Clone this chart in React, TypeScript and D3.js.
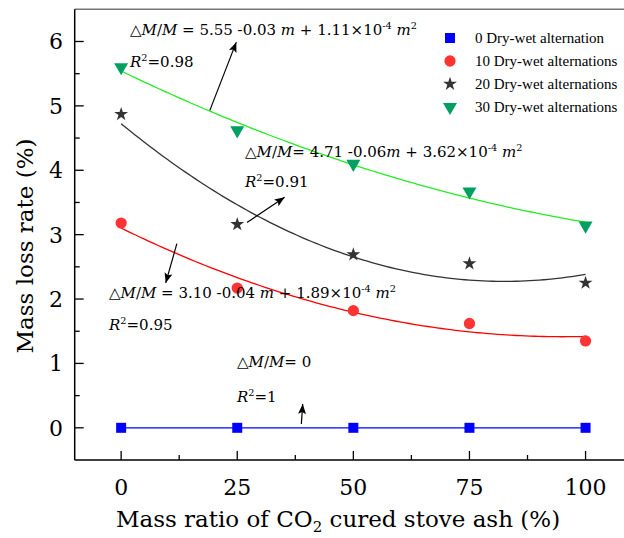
import { useEffect, useRef } from 'react';
import * as d3 from 'd3';

// x values: mass ratio of CO2 cured stove ash (%)
const ratios = [0, 25, 50, 75, 100];
// mass loss rate (%) per number of dry-wet cycles
const loss0 = [0, 0, 0, 0, 0];
const loss10 = [3.18, 2.17, 1.82, 1.62, 1.35];
const loss20 = [4.87, 3.16, 2.69, 2.55, 2.25];
const loss30 = [5.6, 4.62, 4.1, 3.67, 3.14];

const legendLabels = [
    '0 Dry-wet alternation',
    '10 Dry-wet alternations',
    '20 Dry-wet alternations',
    '30 Dry-wet alternations',
];
const xTicks = [0, 25, 50, 75, 100];
const yTicks = [0, 1, 2, 3, 4, 5, 6];

// least squares quadratic fit y = a + b x + c x^2
function quadFit(xs: number[], ys: number[]) {
    let s = [0, 0, 0, 0, 0];
    let t = [0, 0, 0];
    xs.forEach((x, i) => {
        for (let k = 0; k < 5; k++) s[k] += Math.pow(x, k);
        for (let k = 0; k < 3; k++) t[k] += ys[i] * Math.pow(x, k);
    });
    const m = [
        [s[0], s[1], s[2], t[0]],
        [s[1], s[2], s[3], t[1]],
        [s[2], s[3], s[4], t[2]],
    ];
    for (let i = 0; i < 3; i++) {
        for (let j = i + 1; j < 3; j++) {
            const f = m[j][i] / m[i][i];
            for (let k = i; k < 4; k++) m[j][k] -= f * m[i][k];
        }
    }
    const c = [0, 0, 0];
    for (let i = 2; i >= 0; i--) {
        let v = m[i][3];
        for (let k = i + 1; k < 3; k++) v -= m[i][k] * c[k];
        c[i] = v / m[i][i];
    }
    return (x: number) => c[0] + c[1] * x + c[2] * x * x;
}

const App = () => {
    const ref = useRef<SVGSVGElement>(null);

    useEffect(() => {
        const svg = d3.select(ref.current);
        svg.selectAll('*').remove();

        const width = 624;
        const left = 74.7, right = 632, top = 9.3, bottom = 460;

        const x = d3.scaleLinear().domain([-10, 110]).range([left, right]);
        const y = d3.scaleLinear().domain([-0.5, 6.5]).range([bottom, top]);

        const serif = '"DejaVu Serif", serif';

        // frame
        svg.append('line').attr('x1', left).attr('x2', width).attr('y1', top).attr('y2', top)
            .attr('stroke', '#777').attr('stroke-width', 1.5);
        svg.append('line').attr('x1', left).attr('x2', left).attr('y1', top).attr('y2', bottom)
            .attr('stroke', '#000').attr('stroke-width', 1.5);
        svg.append('line').attr('x1', left).attr('x2', width).attr('y1', bottom).attr('y2', bottom)
            .attr('stroke', '#000').attr('stroke-width', 1.5);

        // ticks (inward)
        const xMinor = d3.range(12.5, 100, 25);
        svg.append('g').selectAll('line').data(xTicks).join('line')
            .attr('x1', d => x(d)).attr('x2', d => x(d))
            .attr('y1', bottom).attr('y2', bottom - 9)
            .attr('stroke', '#000').attr('stroke-width', 1.3);
        svg.append('g').selectAll('line').data(xMinor).join('line')
            .attr('x1', d => x(d)).attr('x2', d => x(d))
            .attr('y1', bottom).attr('y2', bottom - 5)
            .attr('stroke', '#000').attr('stroke-width', 1.3);
        const yMinor = d3.range(0.5, 6.5, 1);
        svg.append('g').selectAll('line').data(yTicks).join('line')
            .attr('x1', left).attr('x2', left + 9)
            .attr('y1', d => y(d)).attr('y2', d => y(d))
            .attr('stroke', '#000').attr('stroke-width', 1.3);
        svg.append('g').selectAll('line').data(yMinor).join('line')
            .attr('x1', left).attr('x2', left + 5)
            .attr('y1', d => y(d)).attr('y2', d => y(d))
            .attr('stroke', '#000').attr('stroke-width', 1.3);

        // tick labels
        svg.append('g').selectAll('text').data(xTicks).join('text')
            .attr('x', d => x(d)).attr('y', 495)
            .attr('text-anchor', 'middle')
            .style('font-family', serif).style('font-size', '22px')
            .text(d => d);
        svg.append('g').selectAll('text').data(yTicks).join('text')
            .attr('x', 63).attr('y', d => y(d) + 8)
            .attr('text-anchor', 'end')
            .style('font-family', serif).style('font-size', '22px')
            .text(d => d);

        // axis titles
        const xt = svg.append('text').attr('x', 338).attr('y', 527)
            .attr('text-anchor', 'middle')
            .style('font-family', serif).style('font-size', '23px');
        xt.append('tspan').text('Mass ratio of CO');
        xt.append('tspan').text('2').attr('dy', 5).style('font-size', '15px');
        xt.append('tspan').text(' cured stove ash (%)').attr('dy', -5);

        svg.append('text')
            .attr('transform', 'translate(33,246) rotate(-90)')
            .attr('text-anchor', 'middle')
            .style('font-family', serif).style('font-size', '23px')
            .text('Mass loss rate (%)');

        // fitted curves
        const grid = d3.range(0, 100.5, 1);
        const line = d3.line<number[]>().x(d => x(d[0])).y(d => y(d[1]));
        const curves = [
            { ys: loss10, color: '#ff0000' },
            { ys: loss20, color: '#333333' },
            { ys: loss30, color: '#22ee22' },
        ];
        curves.forEach(c => {
            const f = quadFit(ratios, c.ys);
            svg.append('path')
                .attr('d', line(grid.map(g => [g, f(g)])))
                .attr('fill', 'none').attr('stroke', c.color).attr('stroke-width', 1.3);
        });
        svg.append('path')
            .attr('d', line(ratios.map((r, i) => [r, loss0[i]])))
            .attr('fill', 'none').attr('stroke', '#0000ff').attr('stroke-width', 1.3);

        // markers
        const sym = [
            { type: d3.symbolSquare, size: 100, color: '#0000ff', data: loss0 },
            { type: d3.symbolCircle, size: 100, color: '#ff3333', data: loss10 },
            { type: d3.symbolStar, size: 60, color: '#333333', data: loss20 },
            { type: d3.symbolTriangle, size: 85, color: '#00a060', data: loss30, flip: true },
        ];
        sym.forEach(s => {
            svg.append('g').selectAll('path').data(s.data).join('path')
                .attr('d', d3.symbol(s.type, s.size)())
                .attr('transform', (d, i) => `translate(${x(ratios[i])},${y(d)})${s.flip ? ' rotate(180)' : ''}`)
                .attr('fill', s.color);
        });

        // legend
        const lg = svg.append('g');
        sym.forEach((s, i) => {
            const cy = 38 + i * 23;
            lg.append('path')
                .attr('d', d3.symbol(s.type, s.size)())
                .attr('transform', `translate(450,${cy})${s.flip ? ' rotate(180)' : ''}`)
                .attr('fill', s.color);
            lg.append('text').attr('x', 475).attr('y', cy + 5)
                .style('font-family', '"Liberation Serif", serif').style('font-size', '15px')
                .text(legendLabels[i]);
        });

        // equations
        const rich = (px: number, py: number, parts: any[]) => {
            const size = 15;
            const t = svg.append('text').attr('x', px).attr('y', py)
                .style('font-family', serif).style('font-size', size + 'px');
            let up = false;
            parts.forEach(p => {
                const ts = t.append('tspan').text(p.t);
                if (p.i) ts.style('font-style', 'italic');
                if (p.s) {
                    ts.style('font-size', size * 0.65 + 'px');
                    if (!up) { ts.attr('dy', -size * 0.4); up = true; }
                } else if (up) { ts.attr('dy', size * 0.4); up = false; }
            });
        };
        const eq = (a: string, b: string) => [
            { t: '△' }, { t: 'M', i: 1 }, { t: '/' }, { t: 'M', i: 1 }, { t: a },
            { t: 'm', i: 1 }, { t: b }, { t: '-4', s: 1 }, { t: ' ' }, { t: 'm', i: 1 }, { t: '2', s: 1 },
        ];
        const r2 = (v: string) => [{ t: 'R', i: 1 }, { t: '2', s: 1 }, { t: v }];

        rich(130, 35, eq(' = 5.55 -0.03 ', ' + 1.11×10'));
        rich(130, 67, r2('=0.98'));
        rich(245, 157, eq('= 4.71 -0.06', ' + 3.62×10'));
        rich(245, 187, r2('=0.91'));
        rich(109, 298, eq(' = 3.10 -0.04 ', ' + 1.89×10'));
        rich(109, 330, r2('=0.95'));
        rich(237, 367, [{ t: '△' }, { t: 'M', i: 1 }, { t: '/' }, { t: 'M', i: 1 }, { t: '= 0' }]);
        rich(237, 402, r2('=1'));

        // arrows
        svg.append('defs').append('marker')
            .attr('id', 'ah').attr('viewBox', '0 0 10 10')
            .attr('refX', 10).attr('refY', 5)
            .attr('markerWidth', 10).attr('markerHeight', 10)
            .attr('markerUnits', 'userSpaceOnUse')
            .attr('orient', 'auto')
            .append('path').attr('d', 'M0,1 L10,5 L0,9 L2,5 Z').attr('fill', '#000');
        const arrows = [
            [19.1, 4.93, 24.8, 5.99],
            [27.1, 3.19, 35.2, 3.58],
            [12.0, 2.86, 9.6, 2.25],
            [38.8, 0.06, 39.1, 0.37],
        ];
        svg.append('g').selectAll('line').data(arrows).join('line')
            .attr('x1', d => x(d[0])).attr('y1', d => y(d[1]))
            .attr('x2', d => x(d[2])).attr('y2', d => y(d[3]))
            .attr('stroke', '#000').attr('stroke-width', 1.2)
            .attr('marker-end', 'url(#ah)');
    }, []);

    return (
        <svg ref={ref} width={624} height={538}
            style={{ position: 'absolute', left: 0, top: 0, background: '#fff' }} />
    );
};

export default App;
